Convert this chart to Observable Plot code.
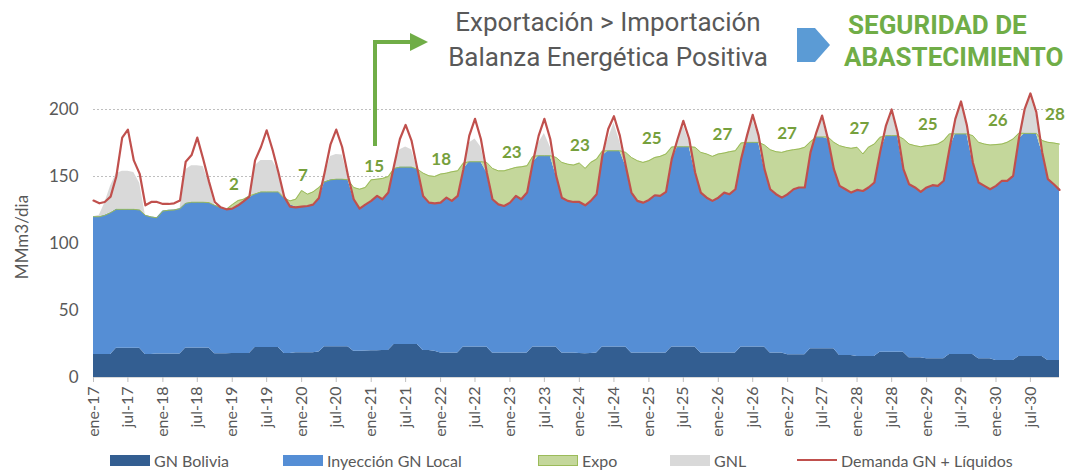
<!DOCTYPE html>
<html>
<head>
<meta charset="utf-8">
<script src="https://cdn.jsdelivr.net/npm/d3@7"></script>
<script src="https://cdn.jsdelivr.net/npm/@observablehq/plot@0.6"></script>
<style>
  html, body { margin: 0; padding: 0; background: #fff; }
  #wrap { position: relative; width: 1073px; height: 471px; overflow: hidden; font-family: Lato, sans-serif; }
  #chart { position: absolute; left: 0; top: 0; }
  .hdr { position: absolute; font-family: Roboto, sans-serif; white-space: nowrap; }
  .grey { color: #595959; font-size: 26px; }
  .green { color: #70ad47; font-size: 26px; font-weight: bold; }
  .leg { position: absolute; top: 449px; height: 22px; display: flex; align-items: center; font-size: 16px; color: #595959; font-family: Lato, sans-serif; white-space: nowrap; }
  .sw { width: 40px; height: 11px; margin-right: 4px; }
  #ylab { position: absolute; left: 21px; top: 237px; transform: translate(-50%, -50%) rotate(-90deg); font-size: 17px; color: #595959; white-space: nowrap; font-family: Lato, sans-serif; }
</style>
</head>
<body>
<div id="wrap">
  <div id="chart"></div>
  <svg id="deco" width="1073" height="120" style="position:absolute;left:0;top:0;overflow:visible">
    <polyline points="375,146 375,42 412,42" fill="none" stroke="#70ad47" stroke-width="4"/>
    <polygon points="410,33 428,42 410,51" fill="#70ad47"/>
    <polygon points="797,28 815,28 830,45 815,62 797,62" fill="#5b9bd5"/>
  </svg>
  <div id="ylab">MMm3/dia</div>
  <div class="hdr grey" style="left:440px;width:336px;text-align:center;top:6px;line-height:32px">Exportación &gt; Importación</div>
  <div class="hdr grey" style="left:440px;width:336px;text-align:center;top:41px;line-height:32px">Balanza Energética Positiva</div>
  <div class="hdr green" style="left:848px;top:9px;line-height:32px">SEGURIDAD DE</div>
  <div class="hdr green" style="left:844px;top:41px;line-height:32px">ABASTECIMIENTO</div>
  <div class="leg" style="left:110px"><div class="sw" style="background:#335e91"></div>GN Bolivia</div>
  <div class="leg" style="left:283px"><div class="sw" style="background:#558ed5"></div>Inyección GN Local</div>
  <div class="leg" style="left:538px"><div class="sw" style="background:#c4d79b;box-sizing:border-box;border:1px solid #9bbb59"></div>Expo</div>
  <div class="leg" style="left:670px"><div class="sw" style="background:#d9d9d9"></div>GNL</div>
  <div class="leg" style="left:797px"><div class="sw" style="height:2px;background:#c0504d"></div>Demanda GN + Líquidos</div>
</div>
<script>
// Monthly series, ene-17 .. dic-30 (MMm3/día)
const startYear = 2017;
const monthCount = 168;

const bolivia = [
  17.2,17.2,17.2,17.2,21.9,21.9,21.9,21.9,21.9,17.2,17.2,17.5,
  17.5,17.5,17.5,17.5,22,22,22,22,22,17.8,17.8,17.8,
  18,18,18,18,22.4,22.4,22.4,22.4,22.4,18,18,18.5,
  18.5,18.5,18.5,19,22.9,22.9,22.9,22.9,22.9,19.5,19.5,19.7,
  20,20,20.2,20.2,24.7,24.7,24.7,24.7,24.7,20.2,20.2,19.5,
  18.2,18.2,18.2,18.2,22.7,22.7,22.7,22.7,22.7,18.2,18.2,18.2,
  18.2,18.2,18.2,18.2,22.7,22.7,22.7,22.7,22.7,18.2,18.2,18.2,
  18,17.8,18,18.2,22.7,22.7,22.7,22.7,22.7,18.2,18.2,18.2,
  18.2,18.2,18.2,18.2,22.7,22.7,22.7,22.7,22.7,18.2,18.2,18.2,
  18.2,18.2,18.2,18.2,22.7,22.7,22.7,22.7,22.7,18.2,18.2,18.2,
  17,17,17,17,21.4,21.4,21.4,21.4,21.4,16.4,16.4,16.4,
  15.7,15.7,15.7,15.7,18.9,18.9,18.9,18.9,18.9,14.7,14.7,14.7,
  13.9,13.9,13.9,13.9,17.2,17.2,17.2,17.2,17.2,13.9,13.9,13.9,
  12.7,12.7,12.7,12.7,15.7,15.7,15.7,15.7,15.7,12.7,12.7,12.7
];

// top of "Inyección GN Local" (stacked on GN Bolivia)
const injeccionTop = [
  120,120,121,123,125.5,125.5,125.5,125.5,125,121,119.8,119.2,
  124.2,124.8,125,126,130,130.8,130.8,130.8,130.5,128.5,126.8,125.5,
  126,128.5,131,134,137,138.5,138.5,138.5,138.5,134,129,127.5,
  127.5,128,129,133,146,147.5,148,148,147.5,133,126,129,
  131.8,135.5,133,138,156,157,157,157,155.5,135.5,130.5,130,
  130.5,134.2,131.8,135.5,155.5,161,161,161,153,133,129.2,128,
  130.5,135.5,133,138,160.5,165.5,165.5,165.5,150.5,134.2,131.8,131,
  131,128.5,131.8,136.8,165.5,169.2,169.2,169.2,158,138,131.8,130.5,
  132.5,136,135.5,138.5,163,172.2,172.2,172.2,153,138,134.2,131.8,
  134.2,138,136.8,140.5,163,175.5,175.5,175.5,155.5,140.5,136.8,134.2,
  136.8,140.5,141.8,141.8,168,179.5,179.5,178,155.5,143,140.5,138,
  140,139.2,141.8,145.5,168,180.5,180.5,180.5,155.5,144.2,141.8,138.5,
  141.8,143.5,143,146.8,170.5,181.8,181.8,181.8,160.5,145.5,143,140.5,
  143,146.8,146.8,150.5,178,182.2,182.2,182.2,168,148,144.2,140
];

// top of "Expo" (stacked on Inyección)
const expoTop = [
  120,120,121,123,125.5,125.5,125.5,125.5,125,121,119.8,119.2,
  124.2,124.8,125,126,130,130.8,130.8,130.8,130.5,128.5,126.8,125.5,
  129,132,133,135.5,137,138.5,138.5,138.5,138.5,134,131.8,133,
  139.5,136.8,138.5,141.8,146,147.5,148,148,147.5,141.8,140.5,141.8,
  147.5,148,148.5,150,156,157,157,157,155.5,152.5,150.5,150,
  151.8,152.5,153.5,154.2,160,161,161,161,160.5,156,154.2,154.2,
  155.5,156.8,157.2,158,165,165.5,165.5,165.5,164.2,160.5,159.2,158.5,
  160,156,160.5,163,169,169.2,169.2,169.2,168,164.2,161.8,160.5,
  161.8,164.2,165,166.8,172,172.2,172.2,172.2,171.8,168,166.8,165,
  166.8,167.5,168.5,169.2,175,175.5,175.5,175.5,173.5,170,168.5,168,
  169.2,170,170.5,171.8,176,179.5,179.5,179.5,175.5,173,171.8,171,
  171.8,166.8,171.8,174.2,179.2,180.5,180.5,180.5,178,174.2,173,172.2,
  173,173.5,174.2,176.8,181.8,181.8,181.8,181.8,180.5,175.5,174.2,173.5,
  173.8,174.2,175.5,178,182.2,182.2,182.2,182.2,176.8,175.5,175,174.2
];

// top of "GNL" (stacked on Inyección)
const gnlTop = [
  120,121,130,143,152,154,154,153,145,121,119.8,119.2,
  124.2,124.8,125,126,155,158,158,157.5,145,128.5,126.8,125.5,
  126,128.5,131,134,158,162,162,162,154,134,129,127.5,
  127.5,128,129,133,150,165,166.5,166,150,133,126,129,
  131.8,135.5,133,138,158,170,172,170,155.5,135.5,130.5,130,
  130.5,134.2,131.8,135.5,155.5,175,178,172,153,133,129.2,128,
  130.5,135.5,133,138,160.5,175,182,172,150.5,134.2,131.8,131,
  131,128.5,131.8,136.8,165.5,178,190,176,158,138,131.8,130.5,
  132.5,136,135.5,138.5,163,176,188,176,153,138,134.2,131.8,
  134.2,138,136.8,140.5,163,180,192,180,155.5,140.5,136.8,134.2,
  136.8,140.5,141.8,141.8,168,182,193,178,155.5,143,140.5,138,
  140,139.2,141.8,145.5,168,186,198,182,155.5,144.2,141.8,138.5,
  141.8,143.5,143,146.8,170.5,192,205,187,160.5,145.5,143,140.5,
  143,146.8,146.8,150.5,178,198,210,196,168,148,144.2,140
];

const demanda = [
  132,130,131,135,150,179,185,162,152,128.5,131,131,
  129.5,129.5,130,132,161,166,179,163,146,131,127,125.5,
  126,128.5,131.5,135,162,172,184.5,170,153,135,127.5,127,
  127.5,128,129,134,153,174,185,172,150.5,133,126,129,
  131.8,135.5,133,138,158,178,188.5,176.8,155.5,135.5,130.5,130,
  130.5,134.2,131.8,135.5,155.5,180.5,193,178,153,133,129.2,128,
  130.5,135.5,133,138,160.5,180.5,193,178,150.5,134.2,131.8,131,
  131,128.5,131.8,136.8,165.5,185.5,195,180.5,158,138,131.8,130.5,
  132.5,136,135.5,138.5,163,178,191.5,178,153,138,134.2,131.8,
  134.2,138,136.8,140.5,163,180.5,196,180.5,155.5,140.5,136.8,134.2,
  136.8,140.5,141.8,141.8,168,183,195.5,178,155.5,143,140.5,138,
  140,139.2,141.8,145.5,168,188,200,183,155.5,144.2,141.8,138.5,
  141.8,143.5,143,146.8,170.5,193,206,188,160.5,145.5,143,140.5,
  143,146.8,146.8,150.5,178,200.5,212,198,168,148,144.2,140
];

// Expo annotations: label, month index (from ene-17), value
const expoLabels = ["2","7","15","18","23","23","25","27","27","27","25","26","28"];
const expoLabelMonth = [24.3,36.2,48.5,60.1,72.3,84.1,96.5,108.7,119.9,132.4,144.2,156.3,166.2];
const expoLabelValue = [144,151,157.5,163,168,173,178,181,182,186,189,192,196];

const yTicks = [0,50,100,150,200];
const monthAbbr = ["ene","feb","mar","abr","may","jun","jul","ago","sep","oct","nov","dic"];
const xTickStep = 6;

const dateOf = (m) => {
  const base = Math.floor(m);
  const d0 = Date.UTC(startYear, base, 1), d1 = Date.UTC(startYear, base + 1, 1);
  return new Date(d0 + (m - base) * (d1 - d0));
};

const data = d3.range(monthCount).map(i => ({
  date: dateOf(i),
  bolivia: bolivia[i],
  inj: injeccionTop[i],
  expo: expoTop[i],
  gnl: gnlTop[i],
  dem: demanda[i]
}));
const labels = expoLabels.map((t, i) => ({t, date: dateOf(expoLabelMonth[i]), v: expoLabelValue[i]}));
const xTicks = d3.range(0, monthCount, xTickStep).map(dateOf);
const fmt = d => monthAbbr[d.getUTCMonth()] + "-" + String(d.getUTCFullYear()).slice(2);

const chart = Plot.plot({
  width: 1073,
  height: 447,
  marginLeft: 93,
  marginRight: 14,
  marginTop: 109,
  marginBottom: 70,
  style: {fontFamily: "Lato, sans-serif", fontSize: "16px", color: "#595959", background: "transparent"},
  x: {type: "utc", domain: [data[0].date, data[monthCount - 1].date]},
  y: {domain: [0, 200]},
  marks: [
    Plot.gridY(yTicks.slice(1), {stroke: "#bfbfbf", strokeOpacity: 1, strokeDasharray: "2,2"}),
    Plot.areaY(data, {x: "date", y1: 0, y2: "bolivia", fill: "#335e91"}),
    Plot.areaY(data, {x: "date", y1: "bolivia", y2: "inj", fill: "#558ed5"}),
    Plot.areaY(data, {x: "date", y1: "inj", y2: "gnl", fill: "#d9d9d9"}),
    Plot.areaY(data, {x: "date", y1: "inj", y2: "expo", fill: "#c4d79b"}),
    Plot.lineY(data, {x: "date", y: "expo", stroke: "#9bbb59", strokeWidth: 1}),
    Plot.lineY(data, {x: "date", y: "dem", stroke: "#c0504d", strokeWidth: 2.2}),
    Plot.ruleY([0], {stroke: "#d9d9d9"}),
    Plot.axisY({ticks: yTicks, tickSize: 0, tickPadding: 15, label: null, fontSize: 17}),
    Plot.axisX({ticks: xTicks, tickSize: 5, stroke: "#bfbfbf", text: null, label: null}),
    Plot.axisX({ticks: xTicks, tickSize: 0, tickPadding: 9, tickRotate: -90, tickFormat: fmt, label: null, fontSize: 16}),
    Plot.text(labels, {x: "date", y: "v", text: "t", fill: "#76a03c", fontWeight: "bold", fontSize: 17})
  ]
});
document.getElementById("chart").appendChild(chart);
</script>
</body>
</html>
